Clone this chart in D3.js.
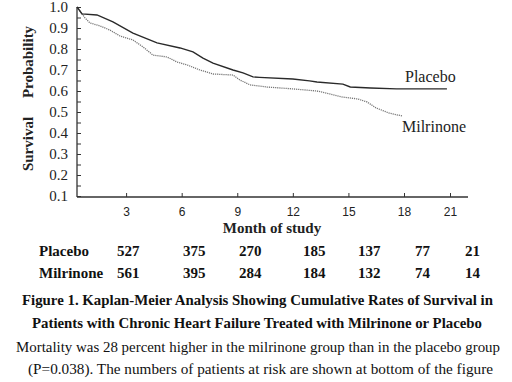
<!DOCTYPE html>
<html>
<head>
<meta charset="utf-8">
<script src="https://cdn.jsdelivr.net/npm/d3@7"></script>
<style>
  body { margin: 0; background: #fff; }
  svg { display: block; }
  .serif { font-family: "Liberation Serif", "DejaVu Serif", serif; }
  .sans { font-family: "Liberation Sans", Arial, sans-serif; }
</style>
</head>
<body>
<div id="chart"></div>
<script>
// survival curves (month, probability)
const placeboMonths = [0.35, 0.62, 1.43, 2.29, 3.37, 4.67, 5.91, 6.61, 7.15, 7.69, 8.77, 9.31, 9.85, 10.2, 12.0, 12.9, 13.3, 14.7, 15.1, 16.2, 17.6, 20.8];
const placeboSurv   = [1.0, 0.967, 0.962, 0.929, 0.876, 0.829, 0.805, 0.786, 0.757, 0.733, 0.70, 0.686, 0.667, 0.665, 0.657, 0.648, 0.643, 0.633, 0.619, 0.614, 0.61, 0.61];

const milrinoneMonths = [0.35, 0.78, 1.05, 1.59, 2.13, 2.67, 3.37, 3.91, 4.45, 5.21, 5.75, 6.29, 6.99, 7.69, 8.77, 9.15, 9.69, 10.6, 12.0, 13.3, 14.0, 14.7, 15.5, 16.0, 16.5, 17.2, 17.9];
const milrinoneSurv   = [1.0, 0.948, 0.924, 0.910, 0.890, 0.862, 0.843, 0.81, 0.771, 0.762, 0.738, 0.724, 0.70, 0.681, 0.676, 0.652, 0.629, 0.619, 0.61, 0.60, 0.586, 0.571, 0.562, 0.548, 0.519, 0.495, 0.481];

// axes
const xTicks = [3, 6, 9, 12, 15, 18, 21];
const yTicks = [0.1, 0.2, 0.3, 0.4, 0.5, 0.6, 0.7, 0.8, 0.9, 1.0];

// patients at risk
const riskGroups = ["Placebo", "Milrinone"];
const riskPlacebo   = [527, 375, 270, 185, 137, 77, 21];
const riskMilrinone = [561, 395, 284, 184, 132, 74, 14];

const captionLines = [
  "Figure 1. Kaplan-Meier Analysis Showing Cumulative Rates of Survival in",
  "Patients with Chronic Heart Failure Treated with Milrinone or Placebo",
  "Mortality was 28 percent higher in the milrinone group than in the placebo group",
  "(P=0.038). The numbers of patients at risk are shown at bottom of the figure"
];

const width = 512, height = 382;

const svg = d3.select("#chart").append("svg")
    .attr("width", width)
    .attr("height", height);

// the printed axis is a little compressed after month 18
const x = d3.scaleLinear()
    .domain([0.35, 18, 21])
    .range([77, 404, 450]);

const y = d3.scaleLinear()
    .domain([0.1, 1.0])
    .range([196, 7]);

const axisY0 = y(0.1) + 1;

// y axis: minor ticks every 0.05, labels on the tenths
const minorTicks = yTicks.slice(0, -1).map(v => v + 0.05);

svg.append("g")
    .attr("transform", `translate(${x(0.35)},0)`)
    .call(d3.axisLeft(y).tickValues(minorTicks).tickSize(-4).tickFormat(""))
    .call(g => g.select(".domain").remove())
    .selectAll("line").attr("stroke", "#333");

const yAxis = svg.append("g")
    .attr("transform", `translate(${x(0.35)},0)`)
    .call(d3.axisLeft(y).tickValues(yTicks).tickSize(-4).tickSizeOuter(0).tickPadding(9).tickFormat(d3.format(".1f")));
yAxis.select(".domain").attr("stroke", "#333").attr("stroke-width", 1.3)
    .attr("d", `M0,${y(1.0)}V${axisY0}`);
yAxis.selectAll("line").attr("stroke", "#333");
yAxis.selectAll("text")
    .attr("class", "serif")
    .style("font-size", "15px")
    .attr("fill", "#222");

const xAxis = svg.append("g")
    .attr("transform", `translate(0,${axisY0})`)
    .call(d3.axisBottom(x).tickValues(xTicks).tickSize(-4).tickSizeOuter(0).tickPadding(10));
xAxis.select(".domain").attr("stroke", "#333").attr("stroke-width", 1.3)
    .attr("d", `M${x(0.35)},0H468`);
xAxis.selectAll("line").attr("stroke", "#333");
xAxis.selectAll("text")
    .attr("class", "sans")
    .style("font-size", "12px")
    .attr("fill", "#222");

// axis titles
const yTitle = [["Probability", 62], ["Survival", 144]];
svg.selectAll(".ytitle").data(yTitle).join("text")
    .attr("class", "serif")
    .attr("transform", d => `translate(33,${d[1]}) rotate(-90)`)
    .attr("text-anchor", "middle")
    .style("font-size", "15px")
    .style("font-weight", "bold")
    .attr("fill", "#222")
    .text(d => d[0]);

svg.append("text")
    .attr("class", "serif")
    .attr("x", 272).attr("y", 233)
    .attr("text-anchor", "middle")
    .style("font-size", "15px")
    .style("font-weight", "bold")
    .attr("fill", "#222")
    .text("Month of study");

// curves
const line = d3.line()
    .x(d => x(d[0]))
    .y(d => y(d[1]));

svg.append("path")
    .datum(d3.zip(milrinoneMonths, milrinoneSurv))
    .attr("d", line)
    .attr("fill", "none")
    .attr("stroke", "#777")
    .attr("stroke-width", 1.3)
    .attr("stroke-dasharray", "1.2,0.9");

svg.append("path")
    .datum(d3.zip(placeboMonths, placeboSurv))
    .attr("d", line)
    .attr("fill", "none")
    .attr("stroke", "#2a2a2a")
    .attr("stroke-width", 1.4);

// curve labels
svg.append("text")
    .attr("class", "serif")
    .attr("x", 405).attr("y", 82)
    .style("font-size", "16px")
    .attr("fill", "#222")
    .text("Placebo");

svg.append("text")
    .attr("class", "serif")
    .attr("x", 402).attr("y", 132)
    .style("font-size", "16px")
    .attr("fill", "#222")
    .text("Milrinone");

// numbers at risk table
const riskCols = [117, 183, 239, 303, 358, 415, 465];
const riskRows = [riskPlacebo, riskMilrinone];
const rowBase = [256, 278];

riskGroups.forEach((name, i) => {
  const row = svg.append("g")
      .attr("class", "serif")
      .style("font-size", "15px")
      .style("font-weight", "bold")
      .attr("fill", "#111");
  row.append("text").attr("x", 39).attr("y", rowBase[i]).text(name);
  row.selectAll(".n").data(riskRows[i]).join("text")
      .attr("x", (d, j) => riskCols[j])
      .attr("y", rowBase[i])
      .text(d => d);
});

// caption
const capX = [22, 32, 16, 28];
const capW = [471, 450, 484, 465];
const capY = [305, 328, 352, 374];

svg.selectAll(".cap").data(captionLines).join("text")
    .attr("class", "serif")
    .attr("x", (d, i) => capX[i])
    .attr("y", (d, i) => capY[i])
    .attr("textLength", (d, i) => capW[i])
    .attr("lengthAdjust", "spacingAndGlyphs")
    .style("font-size", "15px")
    .style("font-weight", (d, i) => i < 2 ? "bold" : "normal")
    .attr("fill", "#111")
    .text(d => d);
</script>
</body>
</html>
